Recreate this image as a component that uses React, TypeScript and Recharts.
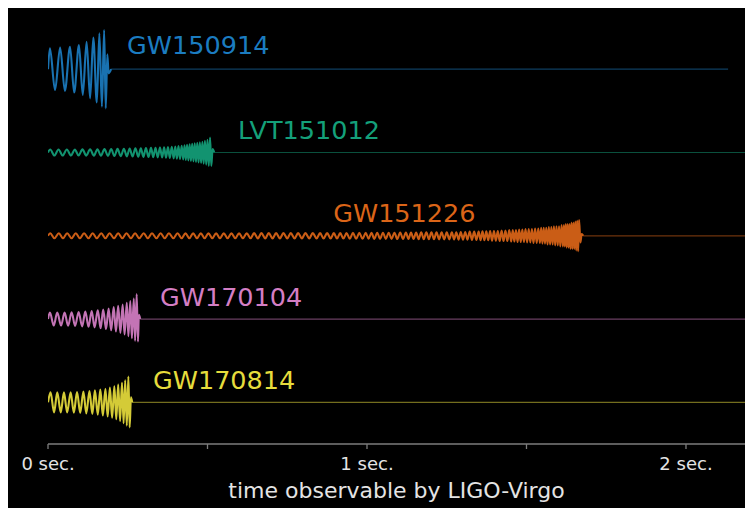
import React from 'react';
import { LineChart, Line, XAxis, YAxis, ReferenceDot } from 'recharts';

// events, top to bottom
const eventNames = ['GW150914', 'LVT151012', 'GW151226', 'GW170104', 'GW170814'];

// [time in ms, strain (normalised)] at each crest / trough of the signal
const gw150914: [number, number][] = [
  [0, 0], [6, 0.25], [22, -0.25], [38, 0.26], [53, -0.26], [69, 0.27], [82, -0.28], [97, 0.29],
  [109, -0.31], [121, 0.33], [132, -0.35], [142, 0.38], [153, -0.4], [161, 0.43], [169, -0.45],
  [176, 0.47], [181, -0.47], [186, 0.18], [190, -0.05], [198, 0],
];

const lvt151012: [number, number][] = [
  [0, 0], [7, 0.036], [20, -0.036], [33, 0.036], [46, -0.036], [59, 0.036], [72, -0.036], [84, 0.036],
  [96, -0.036], [108, 0.037], [120, -0.037], [132, 0.038], [144, -0.038], [155, 0.039], [166, -0.039],
  [177, 0.04], [188, -0.04], [198, 0.041], [208, -0.042], [218, 0.043], [228, -0.044], [238, 0.045],
  [247, -0.046], [256, 0.047], [265, -0.048], [274, 0.049], [283, -0.05], [291, 0.051], [299, -0.052],
  [307, 0.053], [315, -0.054], [323, 0.055], [330, -0.056], [337, 0.057], [344, -0.058], [351, 0.059],
  [358, -0.06], [364, 0.061], [370, -0.062], [376, 0.064], [382, -0.066], [388, 0.068], [394, -0.07],
  [399, 0.072], [404, -0.074], [409, 0.076], [414, -0.078], [419, 0.08], [424, -0.082], [428, 0.085],
  [432, -0.088], [436, 0.091], [440, -0.094], [444, 0.097], [448, -0.1], [452, 0.103], [456, -0.106],
  [460, 0.109], [464, -0.112], [468, 0.115], [472, -0.118], [476, 0.121], [480, -0.125], [484, 0.129],
  [488, -0.134], [492, 0.139], [496, -0.145], [500, 0.151], [504, -0.16], [508, 0.18], [512, -0.16],
  [516, 0.04], [521, 0],
];

const gw151226: [number, number][] = [
  [0, 0],
  [7, 0.03], [20, -0.03], [34, 0.03], [47, -0.03], [60, 0.03], [74, -0.03], [87, 0.03], [100, -0.03],
  [113, 0.03], [127, -0.03], [140, 0.03], [153, -0.03], [167, 0.03], [180, -0.03], [193, 0.03], [207, -0.03],
  [220, 0.03], [233, -0.03], [246, 0.03], [260, -0.03], [273, 0.03], [286, -0.03], [300, 0.03], [313, -0.03],
  [326, 0.03], [340, -0.03], [353, 0.03], [366, -0.03], [379, 0.03], [393, -0.03], [406, 0.03], [419, -0.03],
  [431, 0.03], [443, -0.03], [455, 0.03], [467, -0.03], [479, 0.03], [491, -0.03], [503, 0.03], [515, -0.03],
  [527, 0.03], [539, -0.03], [551, 0.03], [563, -0.03], [575, 0.03], [587, -0.03], [599, 0.03], [611, -0.03],
  [623, 0.03], [635, -0.03],
  [646, 0.032], [658, -0.032], [669, 0.032], [681, -0.032], [692, 0.032], [704, -0.032], [715, 0.032],
  [727, -0.032], [738, 0.032], [750, -0.032], [761, 0.032], [773, -0.032], [784, 0.032], [796, -0.032],
  [807, 0.032], [819, -0.032], [830, 0.032], [842, -0.032], [853, 0.032],
  [864, -0.033], [875, 0.033], [886, -0.033], [896, 0.033], [906, -0.033], [916, 0.033], [926, -0.033], [936, 0.033],
  [946, -0.035], [956, 0.035], [966, -0.035], [976, 0.035], [986, -0.035], [996, 0.035], [1005, -0.035], [1014, 0.035],
  [1023, -0.037], [1032, 0.037], [1041, -0.037], [1050, 0.037], [1059, -0.037], [1068, 0.037], [1077, -0.037], [1086, 0.037],
  [1095, -0.039], [1104, 0.039], [1113, -0.039], [1122, 0.039], [1130, -0.039], [1138, 0.039], [1146, -0.039], [1154, 0.039],
  [1162, -0.041], [1170, 0.041], [1178, -0.041], [1186, 0.041], [1194, -0.041], [1202, 0.041], [1210, -0.041], [1218, 0.041],
  [1226, -0.043], [1234, 0.043], [1242, -0.043], [1250, 0.043], [1258, -0.043], [1266, 0.043], [1273, -0.043], [1280, 0.043],
  [1287, -0.046], [1294, 0.046], [1301, -0.046], [1308, 0.046], [1315, -0.046],
  [1322, 0.05], [1329, -0.05], [1336, 0.05], [1343, -0.05], [1350, 0.05],
  [1356, -0.054], [1362, 0.054], [1368, -0.054], [1374, 0.054], [1380, -0.054],
  [1386, 0.058], [1392, -0.058], [1398, 0.058], [1404, -0.058], [1410, 0.058],
  [1416, -0.063], [1422, 0.063], [1428, -0.063], [1434, 0.063], [1440, -0.063],
  [1446, 0.068], [1452, -0.068], [1457, 0.068], [1462, -0.068], [1467, 0.068],
  [1472, -0.074], [1477, 0.074], [1482, -0.074], [1487, 0.074], [1492, -0.074],
  [1497, 0.08], [1502, -0.08], [1507, 0.08], [1512, -0.08], [1517, 0.08],
  [1522, -0.087], [1527, 0.087], [1532, -0.087], [1537, 0.087], [1542, -0.087],
  [1546, 0.095], [1550, -0.095], [1554, 0.095], [1558, -0.095], [1562, 0.095],
  [1566, -0.105], [1570, 0.105], [1574, -0.105], [1578, 0.105], [1582, -0.105],
  [1586, 0.115], [1590, -0.115], [1594, 0.115], [1598, -0.115], [1602, 0.115],
  [1606, -0.128], [1610, 0.128], [1614, -0.128], [1617, 0.128], [1620, -0.128],
  [1623, 0.142], [1626, -0.142], [1629, 0.142], [1632, -0.142], [1635, 0.142],
  [1638, -0.158], [1641, 0.158], [1644, -0.158], [1647, 0.158], [1650, -0.158],
  [1653, 0.17], [1656, -0.175], [1659, 0.18], [1662, -0.185], [1665, 0.19],
  [1669, -0.08], [1673, 0.02], [1678, 0],
];

const gw170104: [number, number][] = [
  [0, 0], [6, 0.078], [18, -0.078], [29, 0.078], [41, -0.078], [52, 0.078], [63, -0.08], [74, 0.08],
  [85, -0.082], [96, 0.085], [107, -0.088], [117, 0.09], [127, -0.093], [137, 0.097], [146, -0.1],
  [156, 0.105], [165, -0.11], [173, 0.115], [182, -0.12], [190, 0.127], [198, -0.135], [206, 0.143],
  [213, -0.15], [220, 0.158], [227, -0.166], [234, 0.175], [240, -0.185], [247, 0.195], [252, -0.205],
  [258, 0.215], [263, -0.23], [269, 0.245], [273, -0.26], [278, 0.3], [282, -0.27], [285, 0.05], [289, 0],
];

const gw170814: [number, number][] = [
  [0, 0], [8, 0.12], [19, -0.12], [29, 0.12], [40, -0.12], [50, 0.12], [60, -0.12], [71, 0.12],
  [81, -0.123], [91, 0.125], [101, -0.127], [111, 0.13], [120, -0.133], [130, 0.136], [139, -0.14],
  [147, 0.144], [156, -0.148], [164, 0.153], [172, -0.158], [180, 0.164], [187, -0.17], [194, 0.177],
  [201, -0.185], [208, 0.194], [214, -0.203], [220, 0.213], [226, -0.224], [232, 0.236], [237, -0.25],
  [242, 0.265], [247, -0.28], [252, 0.31], [256, -0.3], [260, 0.06], [264, 0],
];

// end of the flat trace after each merger (ms)
const traceEnds = [2132, 2185, 2185, 2185, 2185];

const tickValues = [0, 500, 1000, 1500, 2000];
const tickLabels = ['0 sec.', '', '1 sec.', '', '2 sec.'];
const axisTitle = 'time observable by LIGO-Virgo';

// layout
const W = 737;
const H = 500;
const FONT = '"DejaVu Sans", sans-serif';
const colors = ['#1b7cc0', '#14a07a', '#db6518', '#d47ec4', '#e6dc3c'];
const labelPos = [
  { t: 248, dy: 0.29 },
  { t: 596, dy: 0.27 },
  { t: 894, dy: 0.275 },
  { t: 351, dy: 0.27 },
  { t: 329, dy: 0.27 },
];

const waves = [gw150914, lvt151012, gw151226, gw170104, gw170814];

export default function App() {
  return (
    <div style={{ width: W, height: H, background: '#000', fontFamily: FONT }}>
      <LineChart width={W} height={H} margin={{ top: 0, right: 0, bottom: 0, left: 40 }}>
        <XAxis
          type="number"
          dataKey="t"
          domain={[0, traceEnds[1]]}
          allowDataOverflow
          ticks={tickValues}
          interval={0}
          tickFormatter={(v) => tickLabels[tickValues.indexOf(v)] ?? ''}
          height={64}
          stroke="#7c7c7c"
          strokeWidth={1.3}
          tickSize={5}
          tickMargin={8}
          tick={{ fill: '#e4e4e4', fontSize: 18, fontFamily: FONT }}
          label={{ value: axisTitle, position: 'insideBottom', offset: 10, fill: '#e4e4e4', fontSize: 22, fontFamily: FONT }}
        />
        <YAxis type="number" hide domain={[-4.5, 0.735]} allowDataOverflow />
        {waves.map((w, i) => {
          const rows = w.map(([t, h]) => ({ t, y: h - i }));
          const last = w[w.length - 1][0];
          return [
            <Line
              key={`tail-${i}`}
              data={[{ t: last, y: -i }, { t: traceEnds[i], y: -i }]}
              dataKey="y"
              type="linear"
              stroke={colors[i]}
              strokeOpacity={0.5}
              strokeWidth={1.2}
              dot={false}
              activeDot={false}
              isAnimationActive={false}
            />,
            <Line
              key={`wave-${i}`}
              data={rows}
              dataKey="y"
              type="monotone"
              stroke={colors[i]}
              strokeWidth={2.1}
              strokeOpacity={0.92}
              dot={false}
              activeDot={false}
              isAnimationActive={false}
            />,
          ];
        })}
        {eventNames.map((name, i) => (
          <ReferenceDot
            key={name}
            x={labelPos[i].t}
            y={labelPos[i].dy - i}
            r={0}
            shape={(p: any) => (
              <text x={p.cx} y={p.cy} dominantBaseline="central" fill={colors[i]} fontSize={25.5} fontFamily={FONT}>
                {name}
              </text>
            )}
          />
        ))}
      </LineChart>
    </div>
  );
}
